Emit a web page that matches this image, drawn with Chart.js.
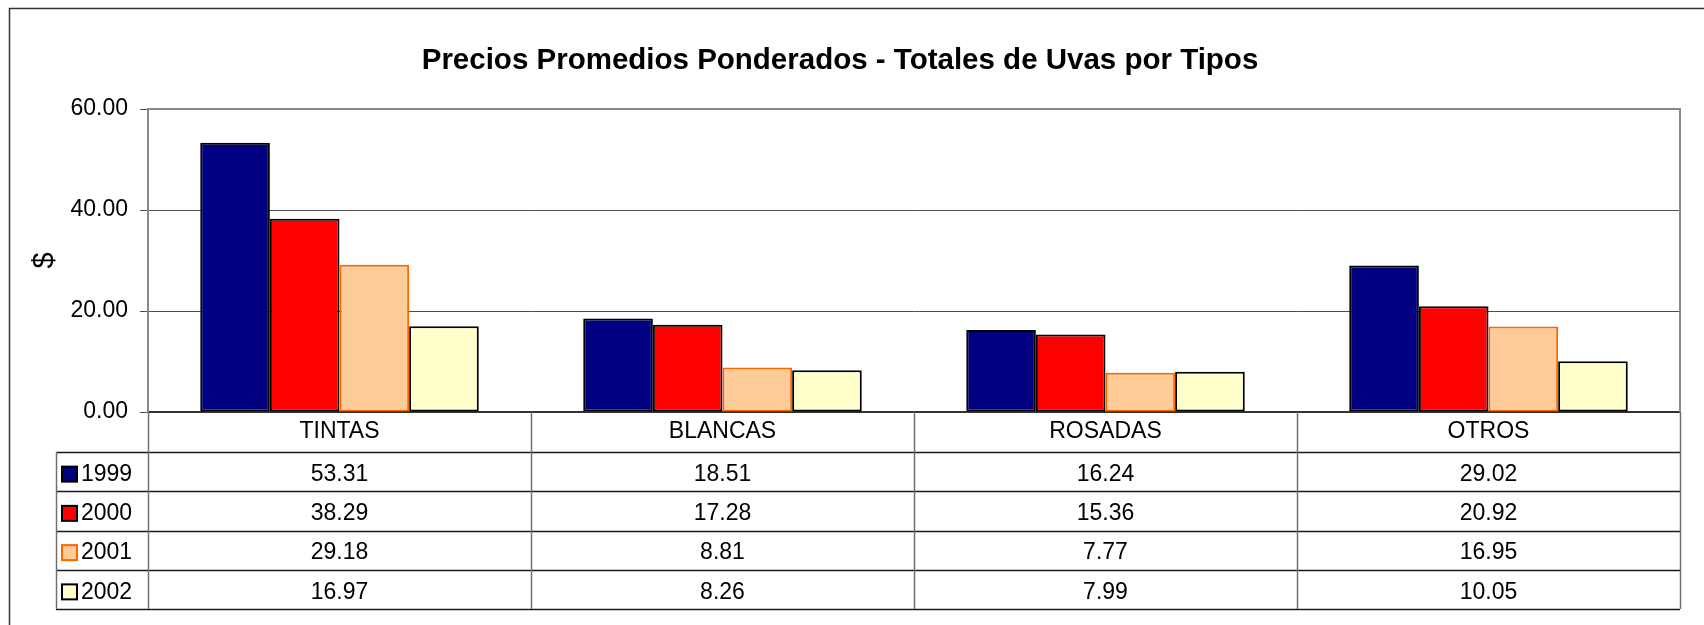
<!DOCTYPE html>
<html>
<head>
<meta charset="utf-8">
<script src="https://cdn.jsdelivr.net/npm/chart.js@4.4.1/dist/chart.umd.min.js"></script>
<style>
  html, body { margin: 0; padding: 0; background: #ffffff; }
  #wrap { width: 1704px; height: 625px; position: relative; }
</style>
</head>
<body>
<div id="wrap"><canvas id="c" width="1704" height="625"></canvas></div>
<script>
// ---- Data ----
const categories = ['TINTAS', 'BLANCAS', 'ROSADAS', 'OTROS'];
const seriesLabels = ['1999', '2000', '2001', '2002'];
const values1999 = [53.31, 18.51, 16.24, 29.02];
const values2000 = [38.29, 17.28, 15.36, 20.92];
const values2001 = [29.18, 8.81, 7.77, 16.95];
const values2002 = [16.97, 8.26, 7.99, 10.05];
const yMin = 0, yMax = 60, yStep = 20;
const chartTitle = 'Precios Promedios Ponderados - Totales de Uvas por Tipos';
const yTitle = '$';

// ---- Styles ----
const FONT = '"Liberation Sans", Arial, sans-serif';
const fills = ['#000080', '#FF0000', '#FFCC99', '#FFFFCC'];
const strokes = ['#000000', '#000000', '#FF6600', '#000000'];
const seriesValues = [values1999, values2000, values2001, values2002];

const datasets = seriesLabels.map((lab, i) => ({
  label: lab,
  data: seriesValues[i],
  backgroundColor: fills[i],
  borderColor: strokes[i],
  borderWidth: 2,
  borderSkipped: false,
  categoryPercentage: 4 / 5.5,
  barPercentage: 1.0
}));

const bgPlugin = {
  id: 'bg',
  beforeDraw(chart) {
    const ctx = chart.ctx;
    ctx.save();
    ctx.fillStyle = '#ffffff';
    ctx.fillRect(0, 0, chart.width, chart.height);
    ctx.restore();
  },
  afterDraw(chart) {
    const ctx = chart.ctx;
    ctx.save();
    // outer chart frame (extends past the canvas right & bottom)
    ctx.strokeStyle = '#333333';
    ctx.lineWidth = 1.5;
    ctx.beginPath();
    ctx.moveTo(9.5, chart.height + 5);
    ctx.lineTo(9.5, 8.5);
    ctx.lineTo(chart.width + 5, 8.5);
    ctx.stroke();
    ctx.restore();
  }
};

const tablePlugin = {
  id: 'dataTable',
  afterDraw(chart) {
    const ctx = chart.ctx;
    const area = chart.chartArea;
    const xs = chart.scales.x;
    const n = categories.length;
    const cw = (area.right - area.left) / n;
    const headTop = area.bottom;
    const top = xs.bottom;
    const rowH = 39.25;
    const rows = seriesLabels.length;
    const bottom = top + rowH * rows;
    const legLeft = 56;

    ctx.save();
    // plot area border (top & right)
    ctx.strokeStyle = '#888888';
    ctx.lineWidth = 2;
    ctx.beginPath();
    ctx.moveTo(area.left, area.top);
    ctx.lineTo(area.right, area.top);
    ctx.lineTo(area.right, area.bottom);
    ctx.stroke();

    // horizontal rows
    ctx.strokeStyle = '#1a1a1a';
    ctx.lineWidth = 1.3;
    for (let r = 0; r <= rows; r++) {
      const y = Math.round(top + r * rowH) + 0.5;
      ctx.beginPath();
      ctx.moveTo(legLeft, y);
      ctx.lineTo(area.right, y);
      ctx.stroke();
    }
    // vertical lines
    ctx.strokeStyle = '#707070';
    ctx.lineWidth = 1.5;
    ctx.beginPath();
    ctx.moveTo(legLeft + 0.5, top);
    ctx.lineTo(legLeft + 0.5, bottom);
    ctx.stroke();
    for (let i = 0; i <= n; i++) {
      const x = Math.round(area.left + i * cw) + 0.5;
      ctx.beginPath();
      ctx.moveTo(x, headTop);
      ctx.lineTo(x, bottom);
      ctx.stroke();
    }

    // legend keys + values
    ctx.font = '23px ' + FONT;
    ctx.fillStyle = '#000';
    ctx.textBaseline = 'middle';
    for (let r = 0; r < rows; r++) {
      const cy = top + r * rowH + rowH / 2 + 3;
      // key square
      ctx.fillStyle = fills[r];
      ctx.fillRect(62, cy - 8, 15, 15);
      ctx.strokeStyle = strokes[r];
      ctx.lineWidth = 2;
      ctx.strokeRect(62, cy - 8, 15, 15);
      ctx.fillStyle = '#000';
      ctx.textAlign = 'left';
      ctx.fillText(seriesLabels[r], 81, cy);
      ctx.textAlign = 'center';
      for (let i = 0; i < n; i++) {
        const x = xs.getPixelForValue(i);
        ctx.fillText(seriesValues[r][i].toFixed(2), x, cy);
      }
    }
    ctx.restore();
  }
};

new Chart(document.getElementById('c'), {
  type: 'bar',
  data: { labels: categories, datasets },
  plugins: [bgPlugin, tablePlugin],
  options: {
    responsive: false,
    animation: false,
    layout: { padding: { top: 0, left: 0, right: 24, bottom: 173 } },
    plugins: {
      legend: { display: false },
      tooltip: { enabled: false },
      title: {
        display: true,
        text: chartTitle,
        color: '#000',
        font: { family: FONT, size: 29.5, weight: 'bold' },
        padding: { top: 43.5, bottom: 30.1 }
      }
    },
    scales: {
      x: {
        grid: { display: false, drawTicks: false },
        border: { display: true, color: '#333333', width: 2 },
        ticks: { color: '#000', font: { family: FONT, size: 23 }, padding: 6, maxRotation: 0, autoSkip: false },
        afterFit(scale) { scale.height = 40; }
      },
      y: {
        min: yMin, max: yMax,
        ticks: {
          stepSize: yStep,
          color: '#000',
          font: { family: FONT, size: 23 },
          padding: 12,
          callback: v => Number(v).toFixed(2)
        },
        grid: { color: '#4d4d4d', lineWidth: 1, tickLength: 8, tickColor: '#4d4d4d' },
        border: { display: true, color: '#888888', width: 2 },
        title: {
          display: true,
          text: yTitle,
          color: '#000',
          font: { family: FONT, size: 29 },
          padding: { top: 28, bottom: 0 }
        },
        afterFit(scale) { scale.width = 148; }
      }
    }
  }
});
</script>
</body>
</html>
